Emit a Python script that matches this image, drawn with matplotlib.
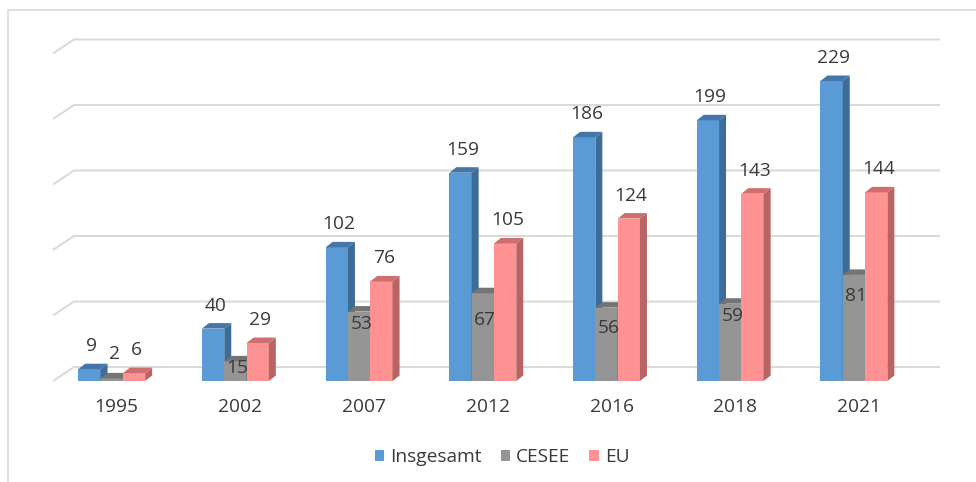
import matplotlib
matplotlib.use("Agg")
import matplotlib.pyplot as plt
from matplotlib.patches import Polygon, Patch, Rectangle
import numpy as np

# Daten
jahre = ["1995", "2002", "2007", "2012", "2016", "2018", "2021"]
insgesamt = [9, 40, 102, 159, 186, 199, 229]
cesee = [2, 15, 53, 67, 56, 59, 81]
eu = [6, 29, 76, 105, 124, 143, 144]
reihen = ["Insgesamt", "CESEE", "EU"]

# Lage der CESEE-Beschriftung unter der Balkenoberkante (px, negativ = darueber)
cesee_label_drop = [-24, 7, 12, 27, 20, 12, 21]

# Farben: Vorderseite, Seite, Deckel
farben = {
    "Insgesamt": ("#5B9BD5", "#3E6C98", "#4477A8"),
    "CESEE": ("#959595", "#6A6A6A", "#747474"),
    "EU": ("#FF9393", "#B96464", "#CF6E6E"),
}
TEXT = "#3A3A3A"
GRID = "#D9D9D9"
FS = 13.8

W, H = 976, 482
fig = plt.figure(figsize=(W / 100, H / 100), dpi=100)
plt.rcParams["font.family"] = ["Open Sans", "DejaVu Sans"]

# Pixel-Layout der Zeichenflaeche
AX_L, AX_R, AX_T, AX_B = 50, 945, 30, 386
X0, XU = 111.7, 123.7     # Mitte erste Gruppe, px pro Kategorie
Y0, YU = 381.0, 1.31      # Nulllinie vorn, px pro Einheit

ax = fig.add_axes([AX_L / W, 1 - AX_B / H, (AX_R - AX_L) / W, (AX_B - AX_T) / H])
ax.set_xlim((AX_L - X0) / XU, (AX_R - X0) / XU)
ax.set_ylim((Y0 - AX_B) / YU, (Y0 - AX_T) / YU)
ax.axis("off")

# Rahmen um das Diagramm
fig.patches.append(Rectangle((8 / W, -0.1), 1.2, 1 - 10 / H + 0.1, transform=fig.transFigure,
                             fill=False, edgecolor=GRID, linewidth=1.2))

# Rueckwand mit Gitterlinien
wand_dx, wand_dy = 21 / XU, 14 / YU
x_links = (53 - X0) / XU
x_rechts = (940 - X0) / XU
for v in range(0, 251, 50):
    ax.plot([x_links, x_links + wand_dx, x_rechts], [v, v + wand_dy, v + wand_dy],
            color=GRID, linewidth=1.4, zorder=1, solid_capstyle="butt")

# 3D-Saeulen
bw = 22.3 / XU
ddx, ddy = 7 / XU, 5.5 / YU
x = np.arange(len(jahre))
werte = {"Insgesamt": insgesamt, "CESEE": cesee, "EU": eu}

z = 2
for i in range(len(jahre)):
    for k, name in enumerate(reihen):
        front, seite, deckel = farben[name]
        xc = x[i] + (k - 1) * bw
        v = werte[name][i]
        ax.bar(xc, v, width=bw, color=front, linewidth=0, zorder=z)
        x1, x2 = xc - bw / 2, xc + bw / 2
        ax.add_patch(Polygon([(x2, 0), (x2 + ddx, ddy), (x2 + ddx, v + ddy), (x2, v)],
                             closed=True, facecolor=seite, linewidth=0, zorder=z))
        ax.add_patch(Polygon([(x1, v), (x1 + ddx, v + ddy), (x2 + ddx, v + ddy), (x2, v)],
                             closed=True, facecolor=deckel, linewidth=0, zorder=z))
        z += 1

# Wertebeschriftungen
px = 72 / 100
for i in range(len(jahre)):
    for k, name in enumerate(reihen):
        xc = x[i] + (k - 1) * bw
        v = werte[name][i]
        if name == "CESEE":
            dy = -cesee_label_drop[i]
        else:
            dy = 23
        ax.annotate(str(v), (xc + ddx / 3, v), xytext=(0, dy * px), textcoords="offset points",
                    ha="center", va="center", fontsize=FS, color=TEXT, zorder=100)

# Kategorien
for i, j in enumerate(jahre):
    ax.annotate(j, (x[i] + 5 / XU, 0), xytext=(0, -26 * px), textcoords="offset points",
                ha="center", va="center", fontsize=FS, color=TEXT, annotation_clip=False)

# Legende
handles = [Patch(facecolor=farben[n][0], edgecolor="none") for n in reihen]
fig.legend(handles, reihen, loc="center", bbox_to_anchor=(502 / W, 1 - 457 / H), ncol=3,
           frameon=False, fontsize=FS, handlelength=0.5, handleheight=0.5,
           handletextpad=0.3, columnspacing=1.0, labelcolor=TEXT)

fig.savefig("out.png", dpi=100, facecolor="white")
